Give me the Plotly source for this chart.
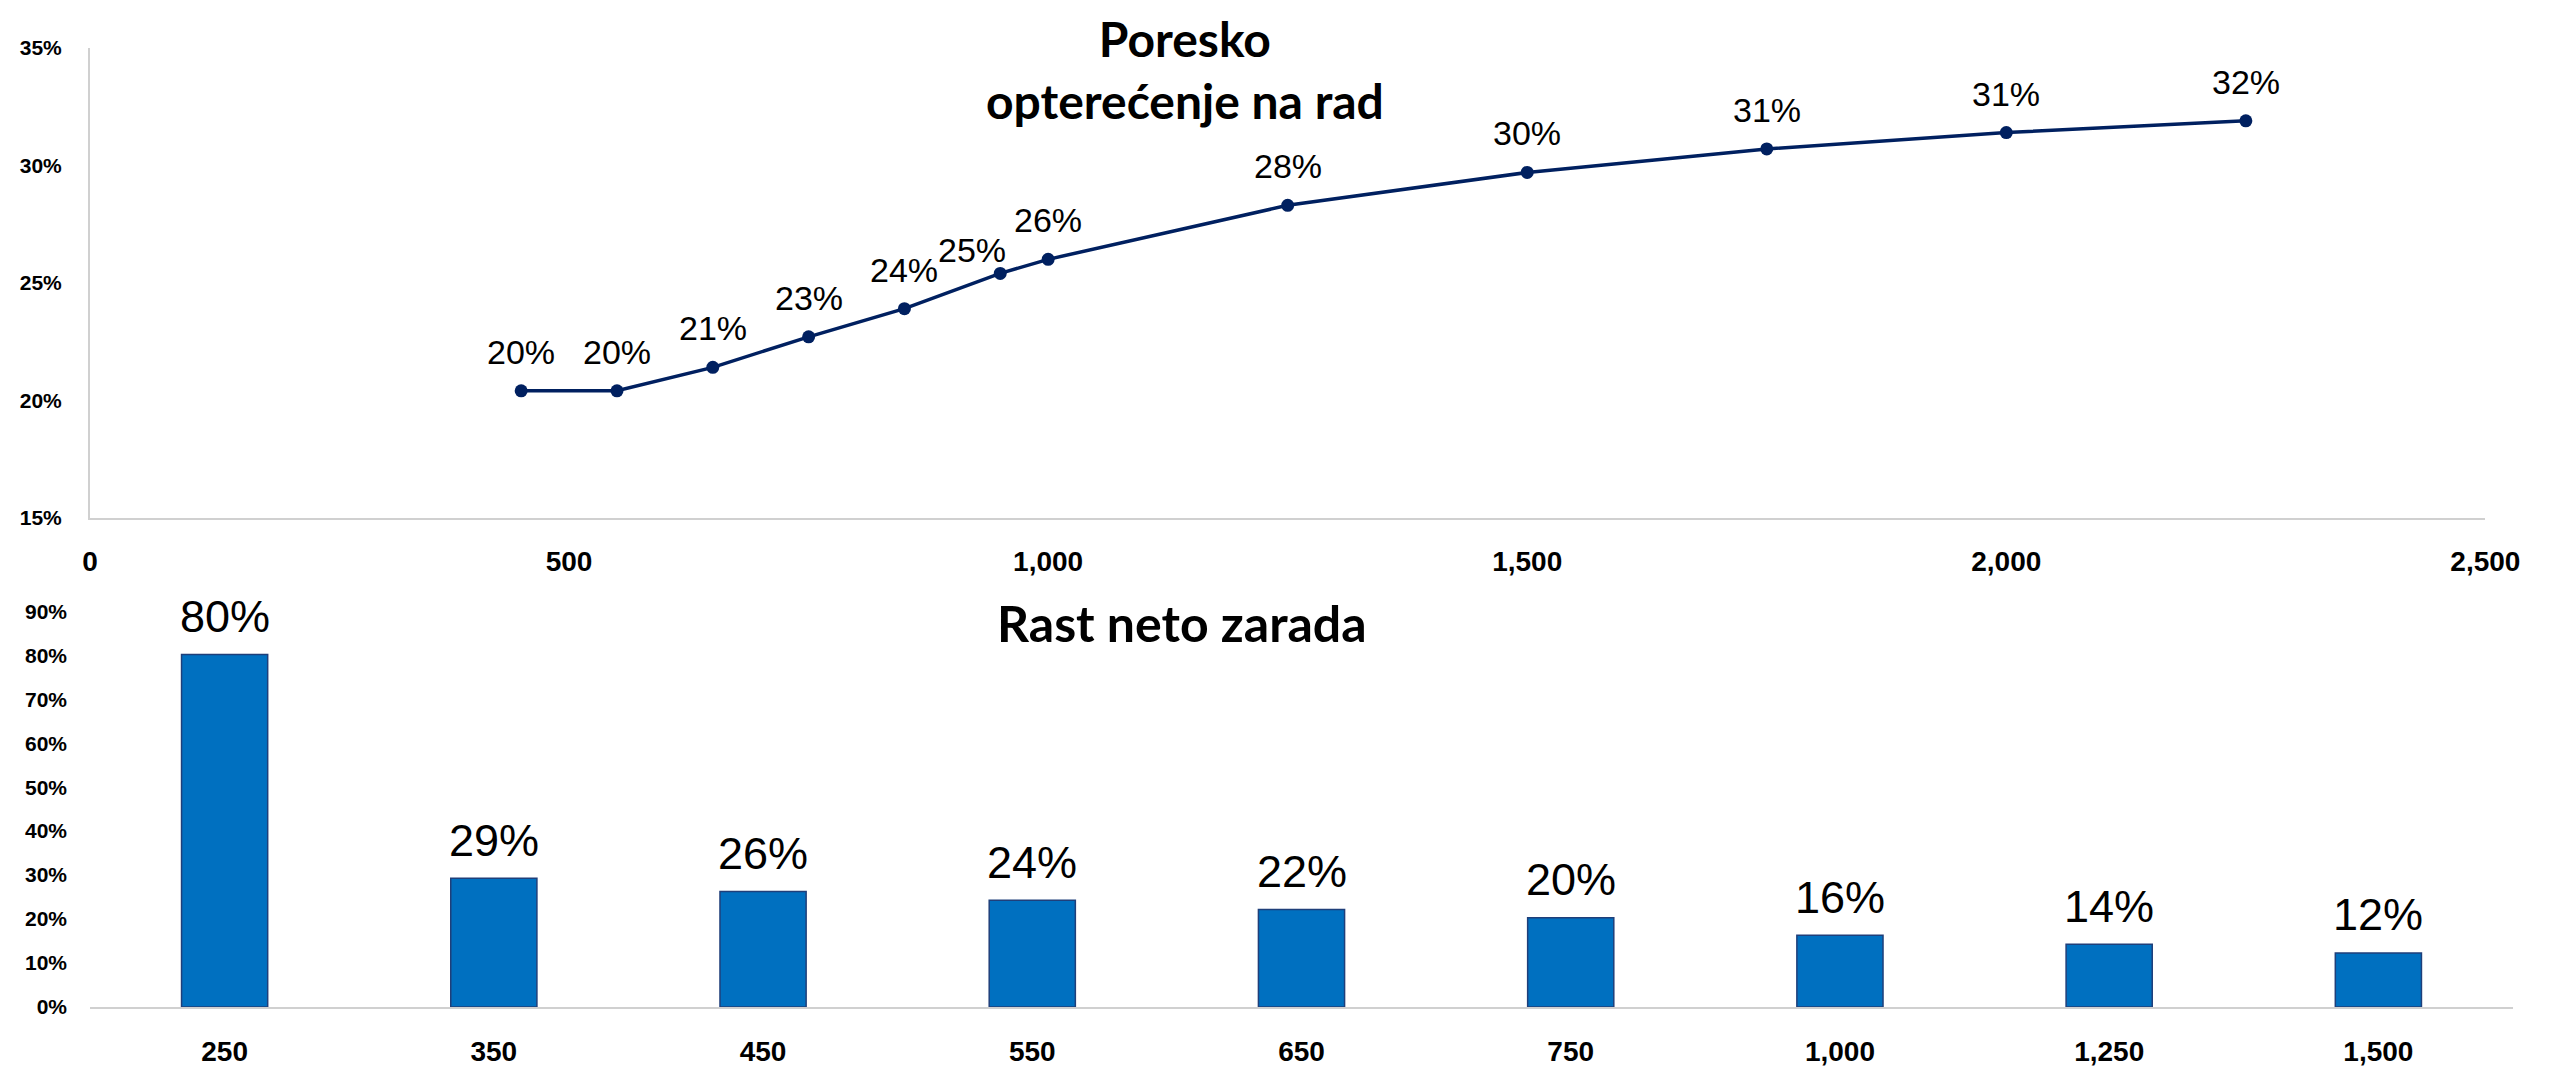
import plotly.graph_objects as go

# Poresko opterecenje na rad (line, top panel)
wage_levels = [450, 550, 650, 750, 850, 950, 1000, 1250, 1500, 1750, 2000, 2250]
tax_burden = [20.4, 20.4, 21.4, 22.7, 23.9, 25.4, 26.0, 28.3, 29.7, 30.7, 31.4, 31.9]

# Rast neto zarada (bars, bottom panel)
net_wage_cats = ["250", "350", "450", "550", "650", "750", "1,000", "1,250", "1,500"]
net_wage_growth = [80.2, 29.3, 26.3, 24.3, 22.2, 20.3, 16.3, 14.3, 12.3]

top_yticks = [15, 20, 25, 30, 35]
top_xticks = [0, 500, 1000, 1500, 2000, 2500]
bottom_yticks = [0, 10, 20, 30, 40, 50, 60, 70, 80, 90]

NAVY = "#002060"
BLUE = "#0070C0"
AXIS_GREY = "#D0D0D0"
LABEL_FONT = "Liberation Sans, Arial, sans-serif"
TITLE_FONT = "Lato, sans-serif"

fig = go.Figure()

fig.add_trace(go.Scatter(
    x=wage_levels, y=tax_burden, mode="lines+markers",
    line=dict(color=NAVY, width=3.5),
    marker=dict(color=NAVY, size=13),
    xaxis="x", yaxis="y", hoverinfo="x+y", showlegend=False,
))

fig.add_trace(go.Bar(
    x=net_wage_cats, y=net_wage_growth,
    marker=dict(color=BLUE, line=dict(color="#1F3F7A", width=1.5)),
    xaxis="x2", yaxis="y2", showlegend=False,
))

# data labels; the 25% label is nudged left like in the original
label_shift = {950: (-28, 23)}
annotations = []
for xv, yv in zip(wage_levels, tax_burden):
    dx, dy = label_shift.get(xv, (0, 39))
    annotations.append(dict(
        x=xv, y=yv, xref="x", yref="y", text=f"{yv:.0f}%", showarrow=False,
        xanchor="center", yanchor="middle", xshift=dx, yshift=dy,
        font=dict(family=LABEL_FONT, size=34, color="black"),
    ))
# category axis: annotations take the category index
for i, val in enumerate(net_wage_growth):
    annotations.append(dict(
        x=i, y=val, xref="x2", yref="y2", text=f"{val:.0f}%", showarrow=False,
        xanchor="center", yanchor="middle", yshift=38,
        font=dict(family=LABEL_FONT, size=45, color="black"),
    ))

annotations.append(dict(
    x=0.452, y=0.978, xref="paper", yref="paper", showarrow=False,
    text="<b>Poresko<br>opterećenje na rad</b>",
    font=dict(family=TITLE_FONT, size=48, color="black"),
    xanchor="center", yanchor="middle",
))
annotations.append(dict(
    x=0.4508, y=0.400, xref="paper", yref="paper", showarrow=False,
    text="<b>Rast neto zarada</b>",
    font=dict(family=TITLE_FONT, size=50, color="black"),
    xanchor="center", yanchor="middle",
))

tick_font_y = dict(family=LABEL_FONT, size=21, color="black", weight="bold")
tick_font_x = dict(family=LABEL_FONT, size=28, color="black", weight="bold")

fig.update_layout(
    width=2552, height=1071,
    margin=dict(l=82, r=21, t=40, b=59),
    plot_bgcolor="white", paper_bgcolor="white",
    bargap=0.68,
    annotations=annotations,
    xaxis=dict(
        domain=[0, 0.9886], range=[0, 2500], tickvals=top_xticks, tickformat=",",
        showgrid=False, zeroline=False, showline=True, linecolor=AXIS_GREY, linewidth=2,
        ticks="", tickfont=tick_font_x, ticklabelstandoff=18, anchor="y",
    ),
    yaxis=dict(
        domain=[0.5103, 1.0], range=[15, 35], tickvals=top_yticks,
        ticktext=[f"{v}%" for v in top_yticks],
        showgrid=False, zeroline=False, showline=True, linecolor=AXIS_GREY, linewidth=2,
        ticks="", tickfont=tick_font_y, ticklabelstandoff=22, anchor="x",
    ),
    xaxis2=dict(
        domain=[0, 1], type="category", range=[-0.5, len(net_wage_cats) - 0.5],
        showgrid=False, zeroline=False, showline=True,
        linecolor=AXIS_GREY, linewidth=2, ticks="", tickfont=tick_font_x,
        ticklabelstandoff=18, anchor="y2",
    ),
    yaxis2=dict(
        domain=[0, 0.4126], range=[0, 90], tickvals=bottom_yticks,
        ticktext=[f"{v}%" for v in bottom_yticks],
        showgrid=False, zeroline=False, showline=False,
        ticks="", tickfont=tick_font_y, ticklabelstandoff=22, anchor="x2",
    ),
)

fig.write_html("out.html")
